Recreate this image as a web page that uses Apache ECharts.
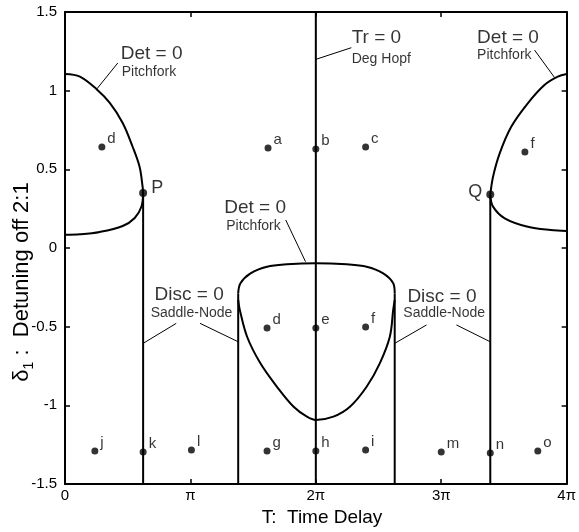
<!DOCTYPE html>
<html><head><meta charset="utf-8">
<script src="https://cdn.jsdelivr.net/npm/echarts@6/dist/echarts.min.js"></script>
<style>html,body{margin:0;padding:0;background:#fff}#c{width:579px;height:532px}</style>
</head><body><div id="c"></div>
<script>
// T values in units of pi, delta_1 values
const xTickLabels = ['0', 'π', '2π', '3π', '4π'];
const leftUpper = [[0,1.106],[0.119,1.089],[0.252,1.009],[0.357,0.922],[0.460,0.795],[0.540,0.642],[0.595,0.515],[0.619,0.388],[0.623,0.350]];
const leftLower = [[0.623,0.350],[0.609,0.262],[0.556,0.191],[0.460,0.140],[0.278,0.102],[0.119,0.087],[0,0.084]];
const leftVert = [[0.623,0.350],[0.623,-1.5]];
const rightUpper = [[4,1.106],[3.929,1.089],[3.823,1.036],[3.690,0.920],[3.558,0.771],[3.466,0.602],[3.413,0.453],[3.391,0.337]];
const rightLower = [[3.391,0.337],[3.413,0.263],[3.506,0.189],[3.690,0.135],[3.873,0.114],[4,0.108]];
const rightVert = [[3.391,0.337],[3.391,-1.5]];
const trLine = [[2,-1.5],[2,1.5]];
const loopLeftVert = [[1.381,-1.5],[1.381,-0.288]];
const loopRightVert = [[2.629,-1.5],[2.629,-0.288]];
const loopTop = [[1.381,-0.288],[1.399,-0.224],[1.479,-0.161],[1.611,-0.119],[1.770,-0.104],[2.0,-0.097],[2.246,-0.104],[2.405,-0.119],[2.537,-0.161],[2.617,-0.224],[2.629,-0.288]];
const loopU = [[1.381,-0.33],[1.394,-0.394],[1.452,-0.564],[1.558,-0.733],[1.690,-0.882],[1.823,-1.009],[1.929,-1.072],[2.0,-1.093],[2.140,-1.072],[2.272,-1.009],[2.405,-0.882],[2.510,-0.733],[2.590,-0.564],[2.617,-0.394],[2.629,-0.33]];
const pointNames = ['d','a','b','c','f','d','e','f','j','k','l','g','h','i','m','n','o'];
const pointT = [0.294,1.619,2.0,2.397,3.667,1.611,2.0,2.397,0.238,0.623,1.008,1.611,2.0,2.397,3.0,3.391,3.770];
const pointD = [0.642,0.636,0.629,0.642,0.610,-0.508,-0.508,-0.502,-1.290,-1.297,-1.284,-1.290,-1.290,-1.284,-1.297,-1.303,-1.290];
const specialNames = ['P','Q'];
const specialT = [0.623,3.391];
const specialD = [0.350,0.340];
const annoMain = ['Det = 0','Tr = 0','Det = 0','Det = 0','Disc = 0','Disc = 0'];
const annoSub = ['Pitchfork','Deg Hopf','Pitchfork','Pitchfork','Saddle-Node','Saddle-Node'];
// annotation anchors (left edge, centre) in data units
const annoMainPos = [[0.444,1.233],[2.286,1.335],[3.286,1.335],[1.270,0.254],[0.714,-0.299],[2.730,-0.311]];
const annoSubPos = [[0.452,1.119],[2.286,1.201],[3.286,1.227],[1.286,0.140],[0.683,-0.413],[2.698,-0.413]];
const leaders = [
  [[0.421,1.176],[0.254,1.011]],
  [[2.283,1.273],[2.0,1.199]],
  [[3.744,1.258],[3.902,1.085]],
  [[1.760,0.178],[1.918,-0.087]],
  [[0.887,-0.479],[0.623,-0.606]],
  [[1.077,-0.479],[1.381,-0.596]],
  [[2.883,-0.489],[2.629,-0.606]],
  [[3.121,-0.489],[3.391,-0.596]]
];

const FONT = "'Liberation Sans', Arial, sans-serif";
const chart = echarts.init(document.getElementById('c'), null, {renderer:'canvas'});

function curve(data, smooth) {
  return {type:'line', data:data, showSymbol:false, smooth:smooth ? 0.35 : false, silent:true,
    lineStyle:{color:'#000', width:2}, z:3, animation:false};
}
const axisCommon = {
  type:'value', axisLine:{show:true, onZero:false, lineStyle:{color:'#000', width:2}},
  axisTick:{show:true, inside:true, length:5, lineStyle:{color:'#000', width:1.5}},
  splitLine:{show:false}
};

const option = {
  animation:false,
  backgroundColor:'#fff',
  grid:{left:65, right:10, top:12, bottom:48, containLabel:false},
  xAxis:[
    Object.assign({}, axisCommon, {position:'bottom', min:0, max:4, interval:1,
      axisLabel:{show:true, color:'#000', fontFamily:FONT, fontSize:15, margin:4,
        formatter:v => xTickLabels[Math.round(v)]}}),
    Object.assign({}, axisCommon, {position:'top', min:0, max:4, interval:1, axisLabel:{show:false}})
  ],
  yAxis:[
    Object.assign({}, axisCommon, {position:'left', min:-1.5, max:1.5, interval:0.5,
      axisLabel:{show:true, color:'#000', fontFamily:FONT, fontSize:15, margin:8}}),
    Object.assign({}, axisCommon, {position:'right', min:-1.5, max:1.5, interval:0.5, axisLabel:{show:false}})
  ],
  series:[
    curve(leftUpper, true), curve(leftLower, true), curve(leftVert, false),
    curve(rightUpper, true), curve(rightLower, true), curve(rightVert, false),
    curve(trLine, false), curve(loopLeftVert, false), curve(loopRightVert, false),
    curve(loopTop, true), curve(loopU, true),
    {type:'lines', coordinateSystem:'cartesian2d', silent:true, z:2,
      lineStyle:{color:'#000', width:1, opacity:1},
      data:leaders.map(c => ({coords:c}))},
    {type:'scatter', symbol:'circle', symbolSize:7, itemStyle:{color:'#000'}, z:5, silent:true,
      data:pointT.map((t,i) => [t, pointD[i]]),
      label:{show:true, position:'right', distance:2, offset:[0,-8], color:'#000', fontFamily:FONT, fontSize:15,
        formatter:p => pointNames[p.dataIndex]}},
    {type:'scatter', symbol:'circle', symbolSize:8, itemStyle:{color:'#000'}, z:5, silent:true,
      data:specialT.map((t,i) => ({value:[t, specialD[i]],
        label:{position: i === 0 ? 'right' : 'left', offset: i === 0 ? [0,-5] : [0,-2], distance:4}})),
      label:{show:true, color:'#000', fontFamily:FONT, fontSize:18,
        formatter:p => specialNames[p.dataIndex]}},
    {type:'scatter', symbolSize:0, z:6, silent:true,
      data:annoMainPos.map(p => p),
      label:{show:true, position:'right', distance:0, color:'#000', fontFamily:FONT, fontSize:19,
        formatter:p => annoMain[p.dataIndex]}},
    {type:'scatter', symbolSize:0, z:6, silent:true,
      data:annoSubPos.map(p => p),
      label:{show:true, position:'right', distance:0, color:'#000', fontFamily:FONT, fontSize:14,
        formatter:p => annoSub[p.dataIndex]}}
  ],
  graphic:[
    {type:'text', x:322, y:518, style:{text:'T:  Time Delay', fill:'#000', font:"19px " + FONT, align:'center', verticalAlign:'middle'}},
    {type:'text', x:22, y:282, rotation:Math.PI/2,
      style:{text:'{d|δ}{s|1}{t| :  Detuning off 2:1}', fill:'#000', align:'center', verticalAlign:'middle',
        rich:{
          d:{fontSize:22, fontFamily:FONT, lineHeight:28, verticalAlign:'middle', fill:'#000'},
          s:{fontSize:14, fontFamily:FONT, lineHeight:13, verticalAlign:'bottom', fill:'#000'},
          t:{fontSize:22, fontFamily:FONT, lineHeight:28, verticalAlign:'middle', fill:'#000'}
        }}}
  ]
};
chart.setOption(option);
</script>
</body></html>
